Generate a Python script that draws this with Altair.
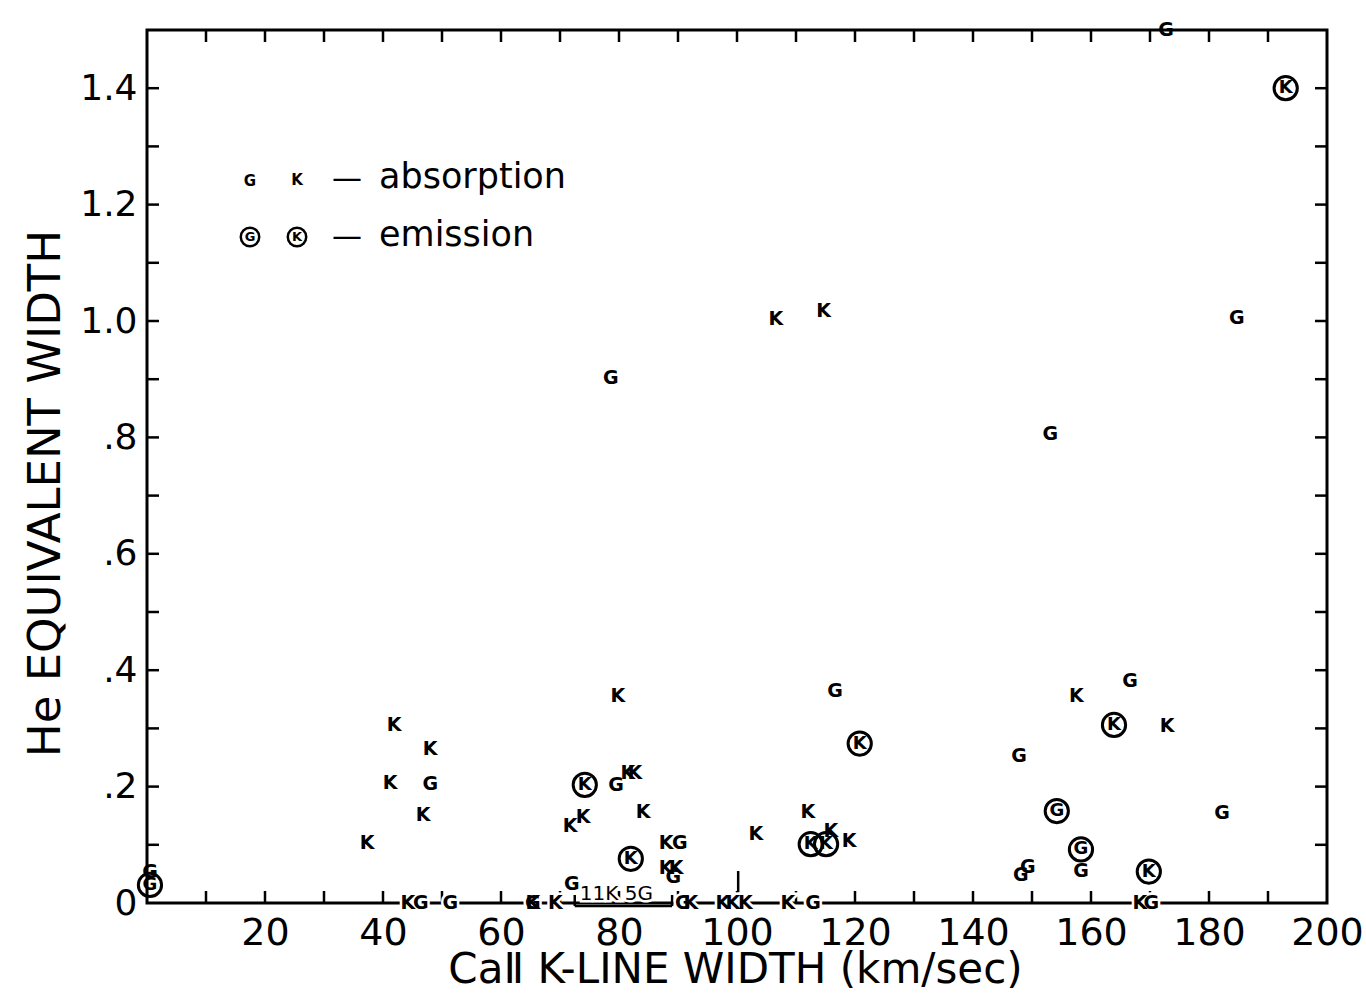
import altair as alt
import pandas as pd

# ---- data ----
# absorption (plain letters)
abs_x = [37.3, 41.9, 41.2, 48.0, 48.0, 46.8, 79.8, 78.6, 79.5, 81.5, 82.7, 71.7, 73.9,
         84.1, 72.0, 88.0, 90.3, 88.0, 89.7, 89.2, 103.2, 106.6, 114.7, 112.0, 115.9,
         119.0, 116.6, 147.8, 153.1, 157.5, 166.6, 172.9, 158.3, 148.1, 149.3, 182.2,
         184.7, 172.7, 0.5]
abs_y = [0.103, 0.305, 0.206, 0.265, 0.205, 0.152, 0.355, 0.902, 0.202, 0.223, 0.223, 0.132, 0.147,
         0.156, 0.033, 0.103, 0.103, 0.060, 0.060, 0.045, 0.118, 1.004, 1.017, 0.156, 0.123,
         0.106, 0.364, 0.253, 0.806, 0.355, 0.381, 0.304, 0.055, 0.048, 0.062, 0.155,
         1.006, 1.500, 0.053]
abs_lab = ["K", "K", "K", "K", "G", "K", "K", "G", "G", "K", "K", "K", "K",
           "K", "G", "K", "G", "K", "K", "G", "K", "K", "K", "K", "K",
           "K", "G", "G", "G", "K", "G", "K", "G", "G", "G", "G",
           "G", "G", "G"]

# absorption letters lying on the zero line
zero_x = [44.2, 46.4, 51.4, 65.4, 65.4, 69.2, 90.8, 92.2, 97.6, 99.3, 101.4, 108.6, 112.9, 168.3, 170.2]
zero_lab = ["K", "G", "G", "K", "G", "K", "G", "K", "K", "K", "K", "K", "G", "K", "G"]

# emission (circled letters)
emi_x = [0.5, 74.2, 82.0, 120.8, 112.5, 115.1, 163.9, 154.2, 158.3, 169.8, 193.0]
emi_y = [0.031, 0.203, 0.076, 0.274, 0.101, 0.101, 0.306, 0.158, 0.092, 0.054, 1.40]
emi_lab = ["G", "K", "K", "K", "K", "K", "K", "G", "G", "K", "K"]

# grouped range on the zero line: "11K 5G"
group_start = [72.5]
group_end = [89.0]
group_text = ["11K  5G"]
bar_x = [100.2]
bar_top = [0.055]

x_minor = list(range(10, 200, 10))
y_minor = [round(0.1 * i, 1) for i in range(1, 15)]
x_labels = [20, 40, 60, 80, 100, 120, 140, 160, 180, 200]
y_labels = [0.0, 0.2, 0.4, 0.6, 0.8, 1.0, 1.2, 1.4]

W, H = 1180, 873
FONT = "DejaVu Sans"

xs = alt.Scale(domain=[0, 200], nice=False, zero=False)
ys = alt.Scale(domain=[0, 1.5], nice=False, zero=False)

absdf = pd.DataFrame({"x": abs_x, "y": abs_y, "lab": abs_lab})
zerodf = pd.DataFrame({"x": zero_x, "y": [0.0] * len(zero_x), "lab": zero_lab})
emidf = pd.DataFrame({"x": emi_x, "y": emi_y, "lab": emi_lab})
grpdf = pd.DataFrame({"x": group_start, "x2": group_end, "t": group_text,
                      "xm": [(a + b) / 2 - 1.2 for a, b in zip(group_start, group_end)]})
bardf = pd.DataFrame({"x": bar_x, "y0": [0.0] * len(bar_x), "y2": bar_top})
xt = pd.DataFrame({"v": x_minor})
yt = pd.DataFrame({"v": y_minor})

x_axis = alt.Axis(values=x_labels, ticks=False, domain=False, grid=False,
                  labelFont=FONT, labelFontSize=38, labelPadding=11, labelColor="black",
                  title="Ca\u2161 K-LINE   WIDTH (km/sec)", titleFont=FONT, titleFontSize=42,
                  titleFontWeight="normal", titleColor="black",
                  titleX=588, titleY=66, titleBaseline="middle", titleAlign="center",
                  labelFlush=False, labelOverlap=False)
y_axis = alt.Axis(values=y_labels, ticks=False, domain=False, grid=False,
                  labelFont=FONT, labelFontSize=36, labelPadding=10, labelColor="black",
                  labelExpr="datum.value == 0 ? '0' : (datum.value < 1 ? replace(format(datum.value, '.1f'), '0.', '.') : format(datum.value, '.1f'))",
                  title="He  EQUIVALENT  WIDTH", titleFont=FONT, titleFontSize=45,
                  titleFontWeight="normal", titleColor="black",
                  titleX=-102, titleY=463, titleAngle=-90, titleBaseline="middle", titleAlign="center",
                  labelFlush=False, labelOverlap=False)

tick_len = 12
# bottom ticks also carry the x axis
bt = alt.Chart(xt).mark_rule(color="black", strokeWidth=2.5).encode(
    x=alt.X("v:Q", scale=xs, axis=x_axis), y=alt.value(H), y2=alt.value(H - tick_len))
tt = alt.Chart(xt).mark_rule(color="black", strokeWidth=2.5).encode(
    x=alt.X("v:Q", scale=xs), y=alt.value(0), y2=alt.value(tick_len))
# left ticks also carry the y axis
lt = alt.Chart(yt).mark_rule(color="black", strokeWidth=2.5).encode(
    y=alt.Y("v:Q", scale=ys, axis=y_axis), x=alt.value(0), x2=alt.value(tick_len))
rt = alt.Chart(yt).mark_rule(color="black", strokeWidth=2.5).encode(
    y=alt.Y("v:Q", scale=ys), x=alt.value(W), x2=alt.value(W - tick_len))

letters = alt.Chart(absdf).mark_text(font=FONT, fontSize=19, fontWeight="bold",
                                     color="black", align="center", baseline="middle").encode(
    x=alt.X("x:Q", scale=xs), y=alt.Y("y:Q", scale=ys), text="lab:N")

zero_halo = alt.Chart(zerodf).mark_text(font=FONT, fontSize=19, fontWeight="bold",
                                        color="white", stroke="white", strokeWidth=5,
                                        align="center", baseline="middle").encode(
    x=alt.X("x:Q", scale=xs), y=alt.Y("y:Q", scale=ys), text="lab:N")
zero_letters = alt.Chart(zerodf).mark_text(font=FONT, fontSize=19, fontWeight="bold",
                                           color="black", align="center", baseline="middle").encode(
    x=alt.X("x:Q", scale=xs), y=alt.Y("y:Q", scale=ys), text="lab:N")

emi_letters = alt.Chart(emidf).mark_text(font=FONT, fontSize=18, fontWeight="bold",
                                         color="black", align="center", baseline="middle").encode(
    x=alt.X("x:Q", scale=xs), y=alt.Y("y:Q", scale=ys), text="lab:N")
emi_circles = alt.Chart(emidf).mark_point(shape="circle", size=540, filled=False,
                                          color="black", strokeWidth=3, opacity=1).encode(
    x=alt.X("x:Q", scale=xs), y=alt.Y("y:Q", scale=ys))

grp_rule = alt.Chart(grpdf).mark_rule(color="black", strokeWidth=2.5).encode(
    x=alt.X("x:Q", scale=xs), x2="x2:Q", y=alt.value(H + 3))
grp_ends_l = alt.Chart(grpdf).mark_rule(color="black", strokeWidth=2.5).encode(
    x=alt.X("x:Q", scale=xs), y=alt.value(H - 8), y2=alt.value(H + 3))
grp_ends_r = alt.Chart(grpdf).mark_rule(color="black", strokeWidth=2.5).encode(
    x=alt.X("x2:Q", scale=xs), y=alt.value(H - 8), y2=alt.value(H + 3))
grp_halo = alt.Chart(grpdf).mark_text(font=FONT, fontSize=20, color="white",
                                      stroke="white", strokeWidth=5, align="center",
                                      baseline="bottom").encode(
    x=alt.X("xm:Q", scale=xs), y=alt.value(H + 1), text="t:N")
grp_text = alt.Chart(grpdf).mark_text(font=FONT, fontSize=20, color="black",
                                      align="center", baseline="bottom").encode(
    x=alt.X("xm:Q", scale=xs), y=alt.value(H + 1), text="t:N")
vbar = alt.Chart(bardf).mark_rule(color="black", strokeWidth=2.5).encode(
    x=alt.X("x:Q", scale=xs), y=alt.Y("y0:Q", scale=ys), y2="y2:Q")

# legend (annotation, pixel placed)
def leg_text(t, px, py, size, bold=False, align="center"):
    return alt.Chart(pd.DataFrame({"t": [t]})).mark_text(
        font=FONT, fontSize=size, fontWeight="bold" if bold else "normal", color="black",
        align=align, baseline="middle").encode(
        x=alt.value(px), y=alt.value(py), text="t:N")

def leg_circle(px, py):
    return alt.Chart(pd.DataFrame({"t": ["o"]})).mark_point(
        shape="circle", size=340, filled=False, color="black", strokeWidth=2.5, opacity=1).encode(
        x=alt.value(px), y=alt.value(py))

legend = [
    leg_text("G", 103, 151, 15, True), leg_text("K", 150, 150, 15, True),
    leg_circle(103, 207), leg_circle(150, 207),
    leg_text("G", 103, 207, 13, True), leg_text("K", 150, 207, 13, True),
    leg_text("\u2014", 200, 149, 30), leg_text("\u2014", 200, 207, 30),
    leg_text("absorption", 232, 147, 35, align="left"),
    leg_text("emission", 232, 205, 35, align="left"),
]

chart = alt.layer(
    bt, lt, tt, rt,
    grp_rule, grp_ends_l, grp_ends_r, vbar,
    zero_halo, zero_letters, grp_halo, grp_text,
    letters, emi_circles, emi_letters,
    *legend,
).properties(
    width=W, height=H,
    autosize=alt.AutoSizeParams(type="none"),
    padding={"left": 147, "top": 30, "right": 39, "bottom": 95},
    background="white",
).configure_view(stroke="black", strokeWidth=3)

chart.save("out.html", embed_options={"renderer": "svg", "actions": False})
